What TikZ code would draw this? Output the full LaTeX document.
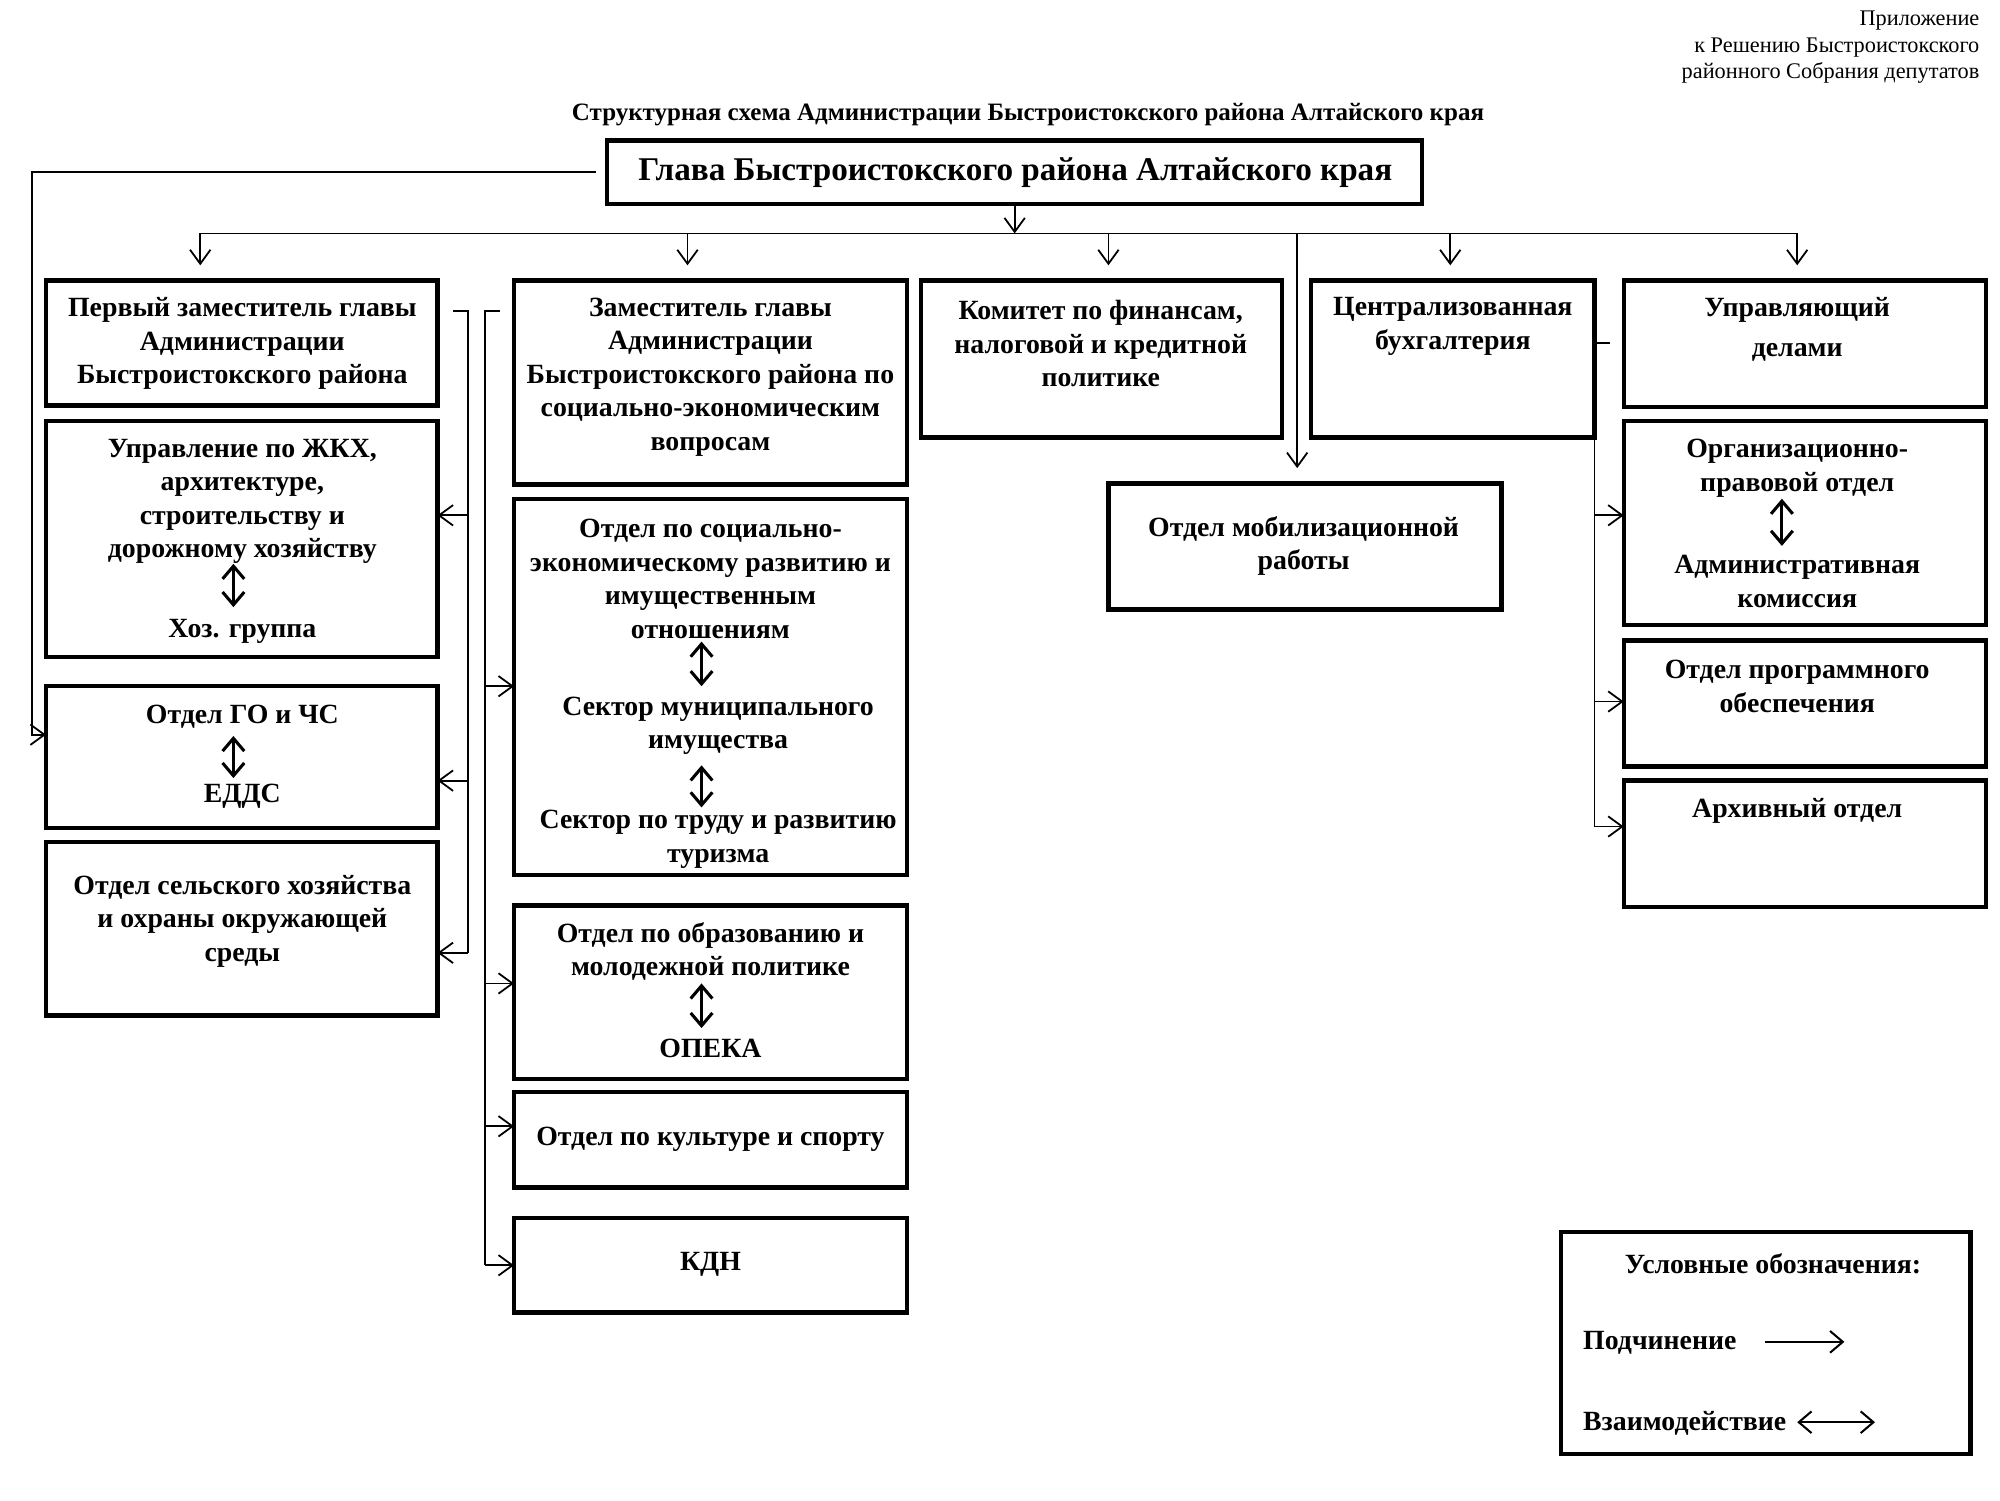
\documentclass[tikz,border=0pt]{standalone}
\usepackage{fontspec}
\setmainfont{Liberation Serif}
\usetikzlibrary{arrows.meta}
\tikzset{
  bx/.style={draw, line width=3.5pt, inner sep=0pt, outer sep=0pt, rectangle},
  txt/.style={font=\fontsize{21.8}{26.3}\selectfont\bfseries, align=center, inner sep=0pt},
  link/.style={line width=1.4pt},
  sub/.style={line width=1.4pt, -{Straight Barb[length=11pt,width=16pt,line width=1.4pt]}},
  inter/.style={line width=2.4pt, {Straight Barb[length=10pt,width=17pt]}-{Straight Barb[length=10pt,width=17pt]}},
  leg/.style={line width=1.6pt, -{Straight Barb[length=10pt,width=17pt]}},
  legd/.style={line width=1.6pt, {Straight Barb[length=10pt,width=17pt]}-{Straight Barb[length=10pt,width=17pt]}},
}
\newcommand\mkbox[5]{\node[bx, minimum width={#4-#2}, minimum height={#5-#3}] (#1) at ({(#2+#4)/2},{(#3+#5)/2}) {};}
\begin{document}
\begin{tikzpicture}[x=1pt,y=-1pt]
\useasboundingbox (0,0) rectangle (1568,1176);
% header texts
\node[anchor=east, align=right, inner sep=0pt, font=\fontsize{17.5}{21}\selectfont] (app) at (1552,37) {Приложение\\к Решению Быстроистокского\\районного Собрания депутатов};
\node[inner sep=0pt, font=\fontsize{19.6}{22}\selectfont\bfseries] (title) at (806,90) {Структурная схема Администрации Быстроистокского района Алтайского края};
% head
\mkbox{head}{476}{110}{1115}{160}
\node[inner sep=0pt, font=\fontsize{26}{30}\selectfont\bfseries] (headt) at (796,135) {Глава Быстроистокского района Алтайского края};
% row 1
\mkbox{first}{36}{220}{343}{318}
\mkbox{dep}{403}{220}{711}{380}
\mkbox{fin}{722}{220}{1005}{343}
\mkbox{buh}{1028}{220}{1250}{343}
\mkbox{upr}{1273}{220}{1557}{319}
\node[txt] (firstt) at (190,269.5) {Первый заместитель главы\\Администрации\\Быстроистокского района};
\node[txt] (dept) at (557,295.5) {Заместитель главы\\Администрации\\Быстроистокского района по\\социально-экономическим\\вопросам};
\node[txt] (fint) at (863,269.5) {Комитет по финансам,\\налоговой и кредитной\\политике};
\node[txt] (buht) at (1139,256) {Централизованная\\бухгалтерия};
\node[txt] (uprt) at (1409,258.5) {Управляющий\\[5pt]делами};
% left column
\mkbox{jkh}{36}{330}{343}{515}
\node[txt] (jkht) at (190,393) {Управление по ЖКХ,\\архитектуре,\\строительству и\\дорожному хозяйству};
\node[txt] (hoz) at (190,495) {Хоз. группа};
\draw[inter] (183,442) -- (183,476);
\mkbox{go}{36}{538}{343}{649}
\node[txt] (got) at (190,562) {Отдел ГО и ЧС};
\node[txt] (edds) at (190,624) {ЕДДС};
\draw[inter] (183,577) -- (183,610);
\mkbox{agr}{36}{660}{343}{796}
\node[txt] (agrt) at (190,722) {Отдел сельского хозяйства\\и охраны окружающей\\среды};
% middle column
\mkbox{soc}{403}{391}{711}{686}
\node[txt] (soct) at (557,454) {Отдел по социально-\\экономическому развитию и\\имущественным\\отношениям};
\node[txt] (mun) at (563,569) {Сектор муниципального\\имущества};
\node[txt] (trud) at (563,658) {Сектор по труду и развитию\\туризма};
\draw[inter] (550,503) -- (550,538);
\draw[inter] (550,600) -- (550,633);
\mkbox{edu}{403}{710}{711}{846}
\node[txt] (edut) at (557,746) {Отдел по образованию и\\молодежной политике};
\node[txt] (opeka) at (557,822) {ОПЕКА};
\draw[inter] (550,771) -- (550,806);
\mkbox{cult}{403}{856}{711}{931}
\node[txt] (cultt) at (557,893) {Отдел по культуре и спорту};
\mkbox{kdn}{403}{955}{711}{1029}
\node[txt] (kdnt) at (557,991) {КДН};
% mobilization
\mkbox{mob}{869}{379}{1177}{478}
\node[txt] (mobt) at (1022,428) {Отдел мобилизационной\\работы};
% right column
\mkbox{org}{1273}{330}{1557}{490}
\node[txt] (orgt) at (1409,367) {Организационно-\\правовой отдел};
\node[txt] (adm) at (1409,456) {Административная\\комиссия};
\draw[inter] (1397,391) -- (1397,428);
\mkbox{prog}{1273}{502}{1557}{601}
\node[txt] (progt) at (1409,538) {Отдел программного\\обеспечения};
\mkbox{arch}{1273}{612}{1557}{711}
\node[txt] (archt) at (1409,636) {Архивный отдел};
% legend
\mkbox{legend}{1224}{966}{1545}{1140}
\node[txt] (legt) at (1390,991) {Условные обозначения:};
\node[txt, anchor=west] (legs) at (1241,1053) {Подчинение};
\node[txt, anchor=west] (legi) at (1241,1116) {Взаимодействие};
\coordinate (ls1) at (1384,1052);
\coordinate (ls2) at (1446,1052);
\coordinate (li1) at (1409,1115);
\coordinate (li2) at (1470,1115);
\draw[leg] (ls1) -- (ls2);
\draw[legd] (li1) -- (li2);
% bus
\coordinate (busL) at (157,183);
\coordinate (busR) at (1409,183);
\draw[link] (busL) -- (busR);
\draw[sub] (head.south) -- (head.south |- busL);
\coordinate (t2) at (539,183);
\coordinate (t3) at (869,183);
\coordinate (t4) at (1137,183);
\coordinate (t6) at (1017,183);
\draw[sub, shorten >=12pt] (busL) -- (busL |- first.north);
\draw[sub, shorten >=12pt] (t2) -- (t2 |- dep.north);
\draw[sub, shorten >=12pt] (t3) -- (t3 |- fin.north);
\draw[sub, shorten >=12pt] (t4) -- (t4 |- buh.north);
\draw[sub, shorten >=12pt] (busR) -- (busR |- upr.north);
\draw[sub, shorten >=12pt] (t6) -- (t6 |- mob.north);
% head to GO
\draw[sub, shorten <=9pt] (head.west) -- (25,135) -- (25,576) -- (go.west |- 0,576);
% left bracket (first deputy)
\draw[link] (355,244) -- (367,244) -- (367,747);
\draw[sub] (367,404) -- (jkh.east |- 0,404);
\draw[sub] (367,612) -- (go.east |- 0,612);
\draw[sub] (367,747) -- (agr.east |- 0,747);
% second bracket (deputy)
\draw[link] (392,244) -- (380,244) -- (380,992);
\draw[sub] (380,538) -- (soc.west |- 0,538);
\draw[sub] (380,771) -- (edu.west |- 0,771);
\draw[sub] (380,883) -- (cult.west |- 0,883);
\draw[sub] (380,992) -- (kdn.west |- 0,992);
% accounting bracket
\draw[link] (buh.east |- 0,269) -- ++(12,0);
\draw[link] (buh.south east) -- (1250,648);
\draw[sub] (1250,404) -- (org.west |- 0,404);
\draw[sub] (1250,550) -- (prog.west |- 0,550);
\draw[sub] (1250,648) -- (arch.west |- 0,648);
\end{tikzpicture}
\end{document}
